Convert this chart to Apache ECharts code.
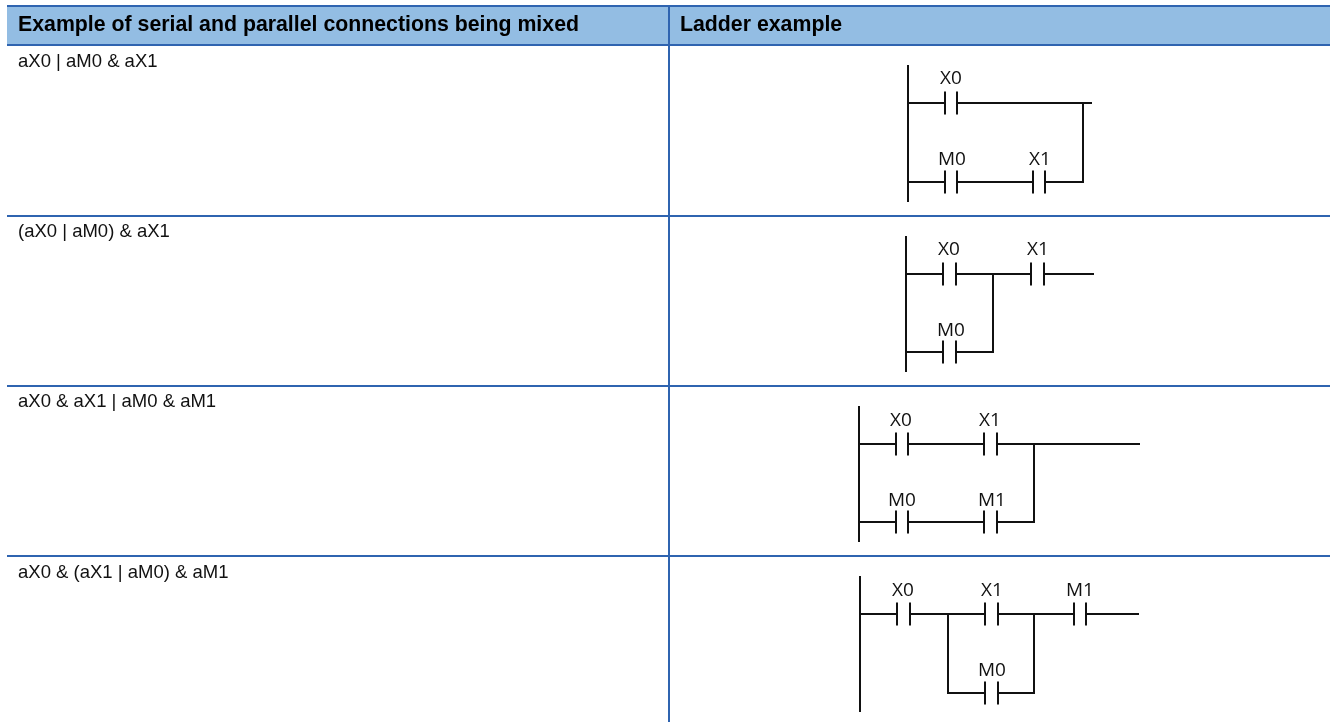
<!DOCTYPE html>
<html>
<head>
<meta charset="utf-8">
<style>
  html, body { margin: 0; padding: 0; background: #fff; }
  #main { width: 1332px; height: 722px; }
</style>
<script src="https://cdn.jsdelivr.net/npm/echarts@6/dist/echarts.min.js"></script>
</head>
<body>
<div id="main"></div>
<script>
// table text
var headers = ['Example of serial and parallel connections being mixed', 'Ladder example'];
var rowTexts = ['aX0 | aM0 & aX1', '(aX0 | aM0) & aX1', 'aX0 & aX1 | aM0 & aM1', 'aX0 & (aX1 | aM0) & aM1'];
var rowTextY = [62, 232, 402, 573];

// table rules, picture coordinates
var headerBand = [7, 6, 1330, 45];
var blueRules = [[7, 6, 1330, 6], [7, 45, 1330, 45], [669, 6, 669, 722]];
var rowRules = [[7, 216, 1330, 216], [7, 386, 1330, 386], [7, 556, 1330, 556]];

// ladder wires [x1, y1, x2, y2]
var wires = [
  // aX0 | aM0 & aX1
  [908, 65, 908, 202],
  [908, 103, 945, 103], [957, 103, 1092, 103], [1083, 102, 1083, 183],
  [908, 182, 945, 182], [957, 182, 1033, 182], [1045, 182, 1083, 182],
  // (aX0 | aM0) & aX1
  [906, 236, 906, 372],
  [906, 274, 943, 274], [956, 274, 1031, 274], [1044, 274, 1094, 274], [993, 274, 993, 353],
  [906, 352, 943, 352], [956, 352, 993, 352],
  // aX0 & aX1 | aM0 & aM1
  [859, 406, 859, 542],
  [859, 444, 896, 444], [908, 444, 984, 444], [997, 444, 1140, 444], [1034, 444, 1034, 523],
  [859, 522, 896, 522], [908, 522, 984, 522], [997, 522, 1034, 522],
  // aX0 & (aX1 | aM0) & aM1
  [860, 576, 860, 712],
  [860, 614, 897, 614], [910, 614, 985, 614], [998, 614, 1074, 614], [1086, 614, 1139, 614],
  [948, 614, 948, 694], [1034, 614, 1034, 694],
  [948, 693, 985, 693], [998, 693, 1034, 693]
];

// contacts [left bar x, right bar x, rung y]
var contacts = [
  [945, 957, 103], [945, 957, 182], [1033, 1045, 182],
  [943, 956, 274], [1031, 1044, 274], [943, 956, 352],
  [896, 908, 444], [984, 997, 444], [896, 908, 522], [984, 997, 522],
  [897, 910, 614], [985, 998, 614], [1074, 1086, 614], [985, 998, 693]
];
var contactHalf = 11.5;

// contact labels [x, y, text]
var contactLabels = [
  [951, 79, 'X0'], [952, 160, 'M0'], [1040, 160, 'X1'],
  [949, 250, 'X0'], [1038, 250, 'X1'], [951, 331, 'M0'],
  [901, 421, 'X0'], [990, 421, 'X1'], [902, 501, 'M0'], [992, 501, 'M1'],
  [903, 591, 'X0'], [992, 591, 'X1'], [1080, 591, 'M1'], [992, 671, 'M0']
];

var BLUE = '#2f64b0';
var FILL = '#93bde3';

function segs(list) {
  return list.map(function (s) { return { coords: [[s[0], s[1]], [s[2], s[3]]] }; });
}

var contactBars = [];
contacts.forEach(function (c) {
  contactBars.push([c[0], c[2] - contactHalf, c[0], c[2] + contactHalf]);
  contactBars.push([c[1], c[2] - contactHalf, c[1], c[2] + contactHalf]);
});

var textPoints = [];
[18, 680].forEach(function (x, i) {
  textPoints.push({
    value: [x, 25],
    name: headers[i],
    label: { fontWeight: 'bold', fontSize: 21.3, color: '#000' }
  });
});
rowTexts.forEach(function (t, i) {
  textPoints.push({ value: [18, rowTextY[i]], name: t });
});

var myChart = echarts.init(document.getElementById('main'), null, { renderer: 'canvas' });
myChart.setOption({
  animation: false,
  backgroundColor: '#fff',
  grid: { left: 0, right: 0, top: 0, bottom: 0 },
  xAxis: { type: 'value', min: 0, max: 1332, show: false },
  yAxis: { type: 'value', min: 0, max: 722, inverse: true, show: false },
  series: [
    {
      type: 'custom',
      silent: true,
      z: 1,
      data: [headerBand],
      renderItem: function (params, api) {
        var a = api.coord([api.value(0), api.value(1)]);
        var b = api.coord([api.value(2), api.value(3)]);
        return {
          type: 'rect',
          shape: { x: a[0], y: a[1], width: b[0] - a[0], height: b[1] - a[1] },
          style: { fill: FILL }
        };
      }
    },
    {
      type: 'lines',
      coordinateSystem: 'cartesian2d',
      silent: true,
      z: 3,
      lineStyle: { color: BLUE, width: 2, opacity: 1 },
      data: segs(blueRules.concat(rowRules))
    },
    {
      type: 'lines',
      coordinateSystem: 'cartesian2d',
      silent: true,
      z: 4,
      lineStyle: { color: '#111', width: 2, opacity: 1 },
      data: segs(wires.concat(contactBars))
    },
    {
      type: 'scatter',
      silent: true,
      z: 5,
      symbolSize: 0,
      itemStyle: { opacity: 1 },
      data: textPoints,
      label: {
        show: true,
        position: 'right',
        distance: 0,
        color: '#111',
        fontFamily: '"Liberation Sans", Arial, sans-serif',
        fontSize: 18.5,
        formatter: function (p) { return p.name; }
      }
    },
    {
      type: 'scatter',
      silent: true,
      z: 5,
      symbolSize: 0,
      itemStyle: { opacity: 1 },
      data: contactLabels.map(function (l) { return { value: [l[0], l[1]], name: l[2] }; }),
      label: {
        show: true,
        position: 'inside',
        color: '#111',
        fontFamily: '"Open Sans", sans-serif',
        fontSize: 19,
        formatter: function (p) { return p.name; }
      }
    }
  ]
});
</script>
</body>
</html>
